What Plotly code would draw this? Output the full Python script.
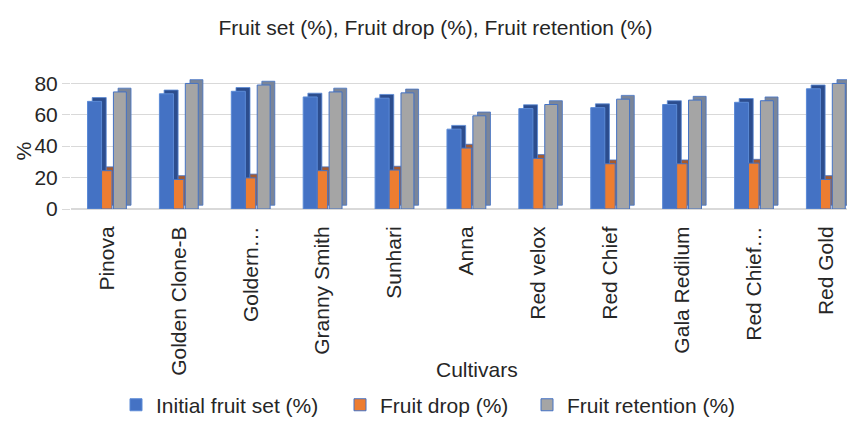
import plotly.graph_objects as go

cultivars = ["Pinova", "Golden Clone-B", "Goldern…", "Granny Smith", "Sunhari", "Anna",
             "Red velox", "Red Chief", "Gala Redilum", "Red Chief…", "Red Gold"]
initial_fruit_set = [68.5, 73.3, 74.9, 71.3, 70.5, 50.8, 63.9, 64.5, 66.5, 67.9, 76.5]
fruit_drop = [24.4, 18.8, 19.8, 24.4, 24.8, 38.8, 32.2, 28.8, 28.8, 29.2, 18.8]
fruit_retention = [74.5, 79.9, 78.9, 74.5, 73.9, 59.3, 66.5, 69.9, 69.3, 68.9, 79.9]
y_ticks = [0, 20, 40, 60, 80]

FONT = "Liberation Sans, Arial, sans-serif"
TXT = "#262626"
DX = 0.065   # depth shift (category units)
DY = 2.4     # depth shift (value units)

L, R, T, B = 63, 12, 69, 221
PW = 855 - L - R

series = [
    ("Initial fruit set (%)", initial_fruit_set, "#4472C4", "#2C4D8E", "#5B8AD6", -0.27, 0.195, "legend"),
    ("Fruit drop (%)", fruit_drop, "#ED7D31", "#A65A2E", "#4472C4", -0.075, 0.145, "legend2"),
    ("Fruit retention (%)", fruit_retention, "#A5A5A5", "#7A8599", "#4472C4", 0.09, 0.18, "legend3"),
]

fig = go.Figure()
for name, vals, col, dark, edge, off, w, lg in series:
    fig.add_trace(go.Bar(
        x=cultivars, y=vals, base=[DY] * len(vals), offset=off + DX, width=w,
        marker=dict(color=dark, line=dict(color=edge, width=0.8)),
        showlegend=False, hoverinfo="skip", cliponaxis=False))
    fig.add_trace(go.Bar(
        x=cultivars, y=vals, offset=off, width=w, name=name, legend=lg,
        marker=dict(color=col, line=dict(color=edge, width=1)),
        cliponaxis=False))


def px(xpix):
    return (xpix - L) / PW


LEG_Y = -(417 - 209) / 140
leg_common = dict(orientation="h", xanchor="left", y=LEG_Y, yanchor="middle",
                  font=dict(size=21, color=TXT), bgcolor="rgba(0,0,0,0)")

fig.update_layout(
    width=855, height=430,
    barmode="overlay",
    paper_bgcolor="white", plot_bgcolor="white",
    font=dict(family=FONT, size=21, color=TXT),
    title=dict(text="Fruit set (%), Fruit drop (%), Fruit retention (%)",
               xref="container", x=0.5, xanchor="center",
               yref="container", y=1 - 20 / 430, yanchor="middle",
               font=dict(size=21, color=TXT)),
    margin=dict(l=L, r=R, t=T, b=B),
    xaxis=dict(tickangle=-90, tickfont=dict(size=21, color=TXT), automargin=False,
               showgrid=False, showline=False, ticks="outside", ticklen=8,
               tickcolor="rgba(0,0,0,0)", range=[-0.5, 10.35]),
    yaxis=dict(range=[0, 84], tickvals=y_ticks, tickfont=dict(size=21, color=TXT),
               automargin=False,
               gridcolor="#D9D9D9", gridwidth=1, zeroline=True, zerolinecolor="#D9D9D9",
               showline=False, ticks="outside", ticklen=8, tickcolor="#D9D9D9"),
    legend=dict(x=px(108), **leg_common),
    legend2=dict(x=px(332), **leg_common),
    legend3=dict(x=px(519), **leg_common),
    annotations=[
        dict(text="%", xref="paper", yref="paper", x=px(15), y=(209 - 148) / 140,
             xanchor="center", yanchor="middle", textangle=-90, showarrow=False,
             font=dict(size=21, color=TXT)),
        dict(text="Cultivars", xref="paper", yref="paper", x=px(469), y=(209 - 379) / 140,
             xanchor="center", yanchor="middle", showarrow=False,
             font=dict(size=21, color=TXT)),
    ],
)

fig.write_html("out.html")
